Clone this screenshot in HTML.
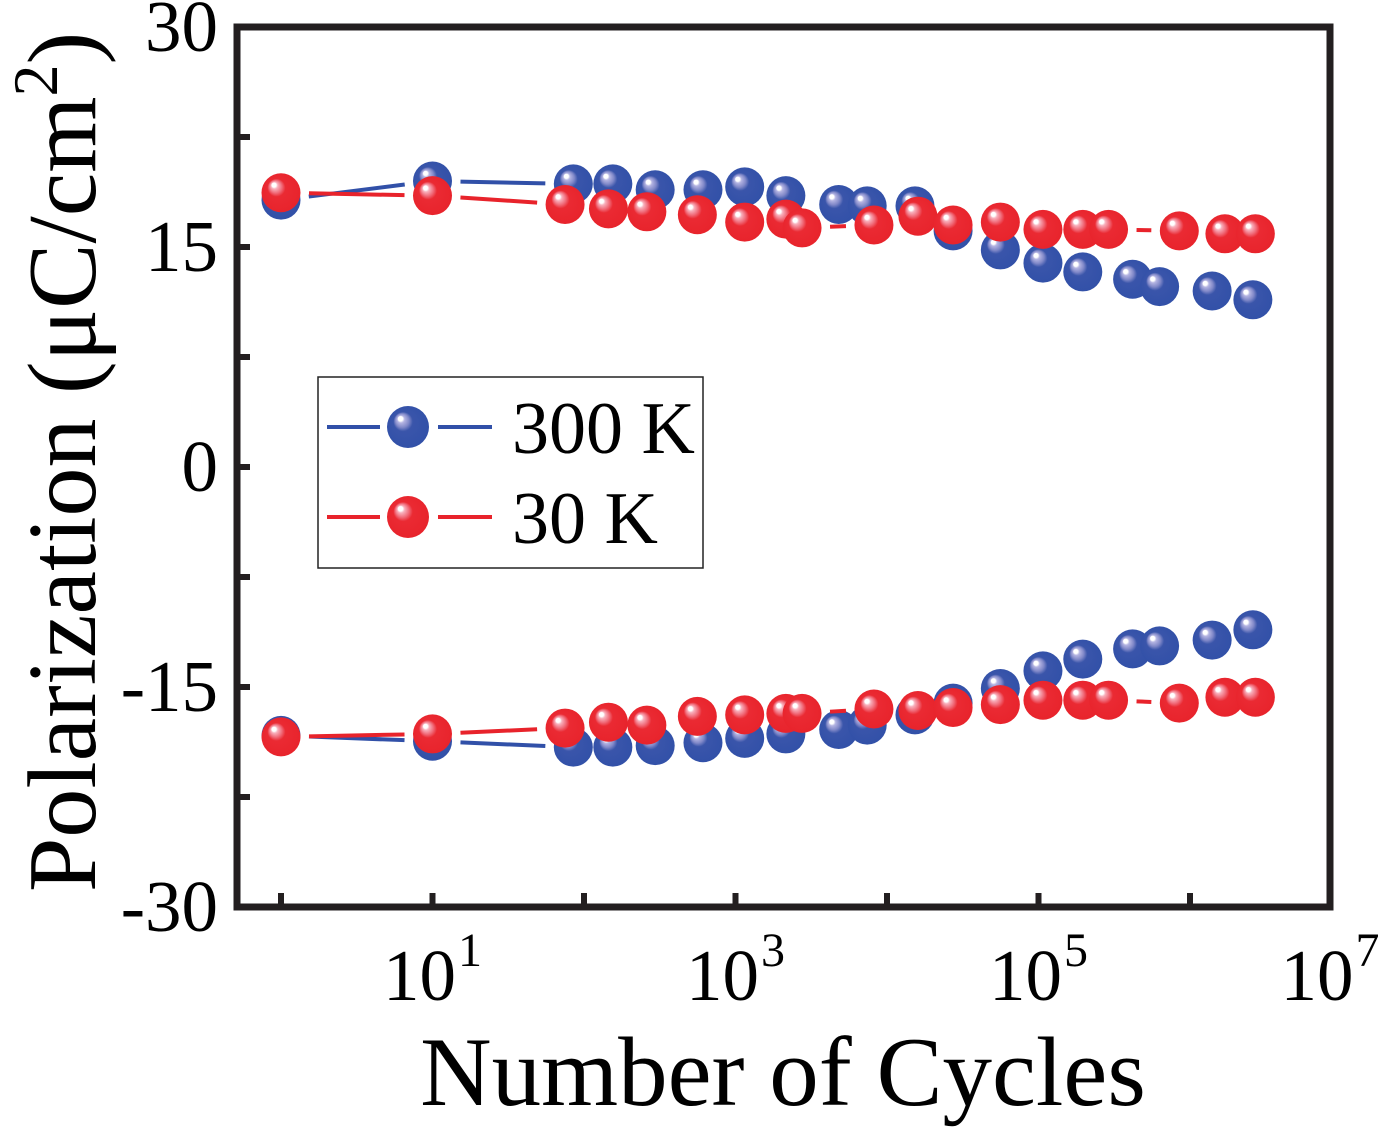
<!DOCTYPE html>
<html><head><meta charset="utf-8"><style>
html,body{margin:0;padding:0;background:#fff;}
svg{display:block;font-family:"Liberation Serif",serif;}
</style></head><body>
<svg id="chart" width="1378" height="1131" viewBox="0 0 1378 1131">
<defs>
<radialGradient id="gb" cx="0.5" cy="0.5" r="0.55" fx="0.3" fy="0.28">
<stop offset="0" stop-color="#ffffff"/><stop offset="0.1" stop-color="#ffffff"/>
<stop offset="0.16" stop-color="#b4b4e2"/><stop offset="0.3" stop-color="#8088c8"/>
<stop offset="0.42" stop-color="#3a55aa"/><stop offset="1" stop-color="#3150a8"/>
</radialGradient>
<radialGradient id="gr" cx="0.5" cy="0.5" r="0.55" fx="0.3" fy="0.28">
<stop offset="0" stop-color="#ffffff"/><stop offset="0.1" stop-color="#ffffff"/>
<stop offset="0.16" stop-color="#f8b0bc"/><stop offset="0.3" stop-color="#f06a78"/>
<stop offset="0.42" stop-color="#ea2a33"/><stop offset="1" stop-color="#e8232b"/>
</radialGradient>
</defs>
<g id="series"></g>
<g id="axes"></g>
<text x="95" y="462" font-size="98" text-anchor="middle" transform="rotate(-90 95 462)">Polarization (μC/cm<tspan font-size="64" dy="-38">2</tspan><tspan dy="38">)</tspan></text>
<text x="783" y="1105" font-size="99" text-anchor="middle">Number of Cycles</text>
<g>
<rect x="318" y="377" width="385" height="191" fill="#fff" stroke="#222" stroke-width="1.5"/>
<g>
<line x1="327" y1="427" x2="380" y2="427" stroke="#3150a8" stroke-width="4"/>
<line x1="438" y1="427" x2="492" y2="427" stroke="#3150a8" stroke-width="4"/>
<circle cx="408" cy="427" r="21" fill="url(#gb)"/>
<text x="512" y="453" font-size="74">300 K</text></g>
<g>
<line x1="327" y1="517" x2="380" y2="517" stroke="#e8232b" stroke-width="4"/>
<line x1="438" y1="517" x2="492" y2="517" stroke="#e8232b" stroke-width="4"/>
<circle cx="408" cy="517" r="21" fill="url(#gr)"/>
<text x="512" y="543" font-size="74">30 K</text></g>
</g>
</svg>
<script>
const cyclesBlue=[1,10,85,155,295,610,1150,2150,4800,7400,15300,27300,56000,107000,196000,418000,630000,1400000,2600000];
const blueUp=[18.2,19.5,19.3,19.3,18.9,18.9,19.1,18.5,17.9,17.8,17.8,16.1,14.8,13.9,13.3,12.8,12.3,12.0,11.4];
const blueDown=[-18.3,-18.7,-19.1,-19.1,-19.0,-18.8,-18.5,-18.2,-17.9,-17.6,-16.9,-16.1,-15.1,-13.9,-13.1,-12.4,-12.2,-11.8,-11.1];
const cyclesRed=[1,10,75,145,260,560,1150,2150,2750,8200,16000,27300,56000,107000,196000,290000,850000,1700000,2700000];
const redUp=[18.7,18.5,17.9,17.6,17.4,17.2,16.7,16.9,16.3,16.5,17.1,16.5,16.7,16.2,16.2,16.2,16.1,15.9,15.9];
const redDown=[-18.4,-18.2,-17.8,-17.4,-17.6,-17.0,-16.9,-16.8,-16.8,-16.5,-16.6,-16.4,-16.2,-15.9,-15.9,-15.9,-16.1,-15.7,-15.7];
const yTicks=[30,15,0,-15,-30];
const xTickExp=[1,3,5,7];

const NS="http://www.w3.org/2000/svg";
const X0=237,X1=1330,Y0=27,Y1=907;
function xs(c){return 281+151.5*Math.log10(c);}
function ys(v){return 467-v*(Y1-Y0)/60;}
function mk(tag,attrs,parent){const e=document.createElementNS(NS,tag);for(const k in attrs)e.setAttribute(k,attrs[k]);parent.appendChild(e);return e;}
const S=document.getElementById('series'),A=document.getElementById('axes');
function drawSeries(cyc,vals,color,grad,name){
  const g=mk('g',{},S);
  
  
  const pts=cyc.map((c,i)=>[xs(c),ys(vals[i])]);
  for(let i=0;i<pts.length-1;i++){
    const [a,b]=[pts[i],pts[i+1]];const dx=b[0]-a[0],dy=b[1]-a[1],L=Math.hypot(dx,dy),g2=28;
    if(L>2*g2+2){const ux=dx/L,uy=dy/L;
      const ln=mk('line',{x1:a[0]+ux*g2,y1:a[1]+uy*g2,x2:b[0]-ux*g2,y2:b[1]-uy*g2,stroke:color,'stroke-width':4},g);
      
      }
  }
  pts.forEach(p=>{const c=mk('circle',{cx:p[0],cy:p[1],r:19.5,fill:'url(#'+grad+')'},g);
    
    });
}
drawSeries(cyclesBlue,blueUp,'#3150a8','gb','series-300k-positive');
drawSeries(cyclesBlue,blueDown,'#3150a8','gb','series-300k-negative');
drawSeries(cyclesRed,redUp,'#e8232b','gr','series-30k-positive');
drawSeries(cyclesRed,redDown,'#e8232b','gr','series-30k-negative');
const fr=mk('rect',{x:X0,y:Y0,width:X1-X0,height:Y1-Y0,fill:'none',stroke:'#231f20','stroke-width':7},A);


for(let v=30;v>=-30;v-=7.5){const t=mk('line',{x1:X0,x2:X0+13,y1:ys(v),y2:ys(v),stroke:'#231f20','stroke-width':6},A);
  
  }
yTicks.forEach(v=>{const t=mk('text',{x:218,y:ys(v)+24,'font-size':73,'text-anchor':'end'},A);t.textContent=String(v);
  
  });
for(let e=0;e<=6;e++){const t=mk('line',{x1:xs(Math.pow(10,e)),x2:xs(Math.pow(10,e)),y1:Y1,y2:Y1-14,stroke:'#231f20','stroke-width':6},A);
  
  }
xTickExp.forEach(e=>{const x=Math.min(xs(Math.pow(10,e)),1330);const t=mk('text',{x:x,y:1000,'font-size':73,'text-anchor':'middle'},A);
  t.textContent='10';const s=mk('tspan',{'font-size':48,dy:-34,dx:2},t);s.textContent=String(e);
  
  });
</script>
</body></html>
